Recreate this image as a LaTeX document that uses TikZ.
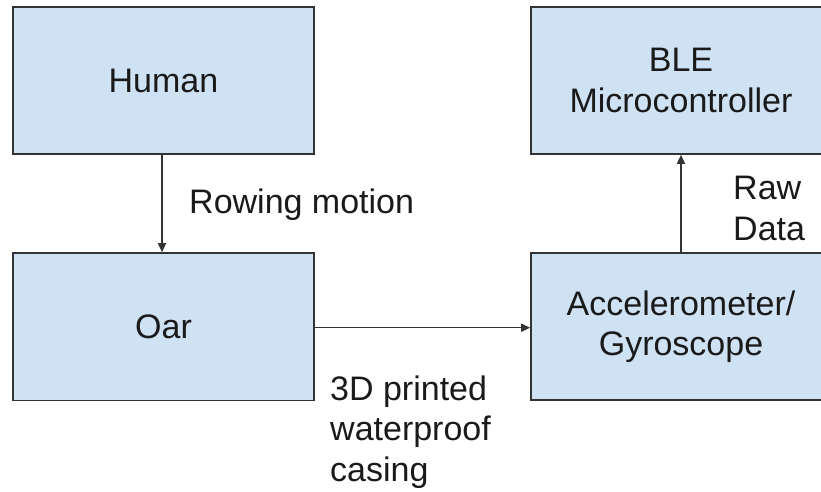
\documentclass[tikz,border=0pt]{standalone}
\usepackage{fontspec}
\setmainfont{Liberation Sans}
\usetikzlibrary{arrows.meta}
\definecolor{boxfill}{HTML}{CFE2F3}
\definecolor{edge}{HTML}{333333}
\definecolor{ink}{HTML}{1A1A1A}
\tikzset{
  block/.style={draw=edge, line width=1.6pt, fill=boxfill, rectangle, inner sep=0pt,
    align=center, text=ink},
  conn/.style={draw=edge, line width=1.4pt, -{Triangle[length=9pt,width=8pt]}},
  lbl/.style={align=left, text=ink, inner sep=0pt}
}
\begin{document}
\begin{tikzpicture}[x=1pt,y=-1pt,font=\fontsize{34}{40.5}\selectfont]
\useasboundingbox (0,0) rectangle (821,491);
\clip (0,0) rectangle (821,491);
\fill[white] (0,0) rectangle (821,491);
\node[block, minimum width=301pt, minimum height=147pt] (human) at (163.5,80.5) {Human};
\node[block, minimum width=301pt, minimum height=147.5pt] (oar) at (163.5,326.75) {Oar};
\node[block, minimum width=300pt, minimum height=147pt] (ble) at (681,80.5) {BLE\\Microcontroller};
\node[block, minimum width=300pt, minimum height=147pt] (acc) at (681,326.5) {Accelerometer/\\Gyroscope};
\draw[conn] (human.south -| 162,0) -- (oar.north -| 162,0);
\draw[conn] (oar.east |- 0,327.7) -- (acc.west |- 0,327.7);
\draw[conn] (acc.north) -- (ble.south);
\node[lbl, anchor=base west] (rowing) at (189,213) {Rowing motion};
\node[lbl, anchor=base west] (raw) at (733,240) {Raw\\Data};
\node[lbl, anchor=base west] (casing) at (330,481) {3D printed\\waterproof\\casing};
\end{tikzpicture}
\end{document}
